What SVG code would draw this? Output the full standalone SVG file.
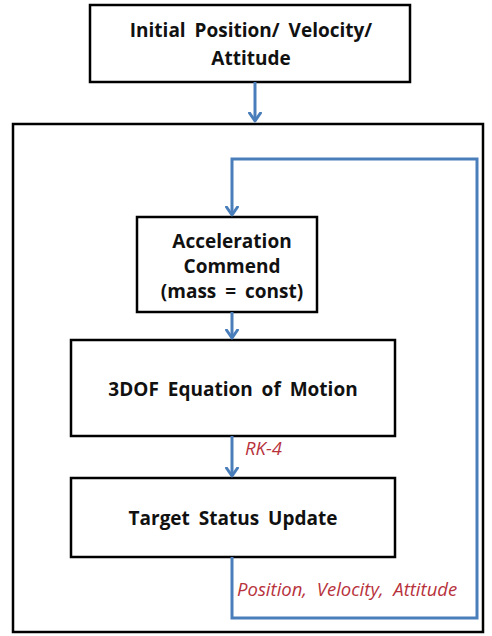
<svg xmlns="http://www.w3.org/2000/svg" width="492" height="636" viewBox="0 0 492 636">
<defs>
<style>
.box{fill:#fff;stroke:#000;stroke-width:2.5}
.t{font-family:"Open Sans","Noto Sans",sans-serif;font-weight:bold;font-size:19px;word-spacing:4px;fill:#111;text-anchor:middle}
.lbl{font-family:"Open Sans","Noto Sans",sans-serif;font-style:italic;font-size:18.5px;word-spacing:5px;fill:#b8323c}
.c{fill:none;stroke:#4a7ebb;stroke-width:3}
</style>
<marker id="ah" viewBox="0 0 11 14" refX="9.5" refY="7" markerWidth="11" markerHeight="14" markerUnits="userSpaceOnUse" orient="auto">
<path d="M1.5,1.5 L9.5,7 L1.5,12.5" fill="none" stroke="#4a7ebb" stroke-width="3" stroke-linecap="round" stroke-linejoin="round"/>
</marker>
</defs>
<rect width="492" height="636" fill="#fff"/>
<g id="outer"><rect class="box" x="13" y="124" width="470" height="508"/></g>
<g id="initial">
<rect class="box" x="90" y="5" width="320" height="77"/>
<text class="t" x="251" y="37">Initial Position/ Velocity/</text>
<text class="t" x="251" y="65">Attitude</text>
</g>
<g id="accel">
<rect class="box" x="137" y="217" width="180" height="95"/>
<text class="t" x="232" y="248">Acceleration</text>
<text class="t" x="232" y="273">Commend</text>
<text class="t" x="232" y="298">(mass = const)</text>
</g>
<g id="eom">
<rect class="box" x="71" y="340" width="324" height="96"/>
<text class="t" x="233" y="396">3DOF Equation of Motion</text>
</g>
<g id="target">
<rect class="box" x="71" y="478" width="324" height="79"/>
<text class="t" x="233" y="525">Target Status Update</text>
</g>
<g id="connectors">
<path class="c" stroke-width="2.5" d="M255,82 V121" marker-end="url(#ah)"/>
<path class="c" stroke-width="2.5" d="M232,312 V338" marker-end="url(#ah)"/>
<path class="c" stroke-width="2.5" d="M232,436 V476" marker-end="url(#ah)"/>
<path class="c" d="M232,557 V618 H477 V159 H232 V215" marker-end="url(#ah)"/>
<text class="lbl" x="245" y="455">RK-4</text>
<text class="lbl" x="237" y="596">Position, Velocity, Attitude</text>
</g>
</svg>
